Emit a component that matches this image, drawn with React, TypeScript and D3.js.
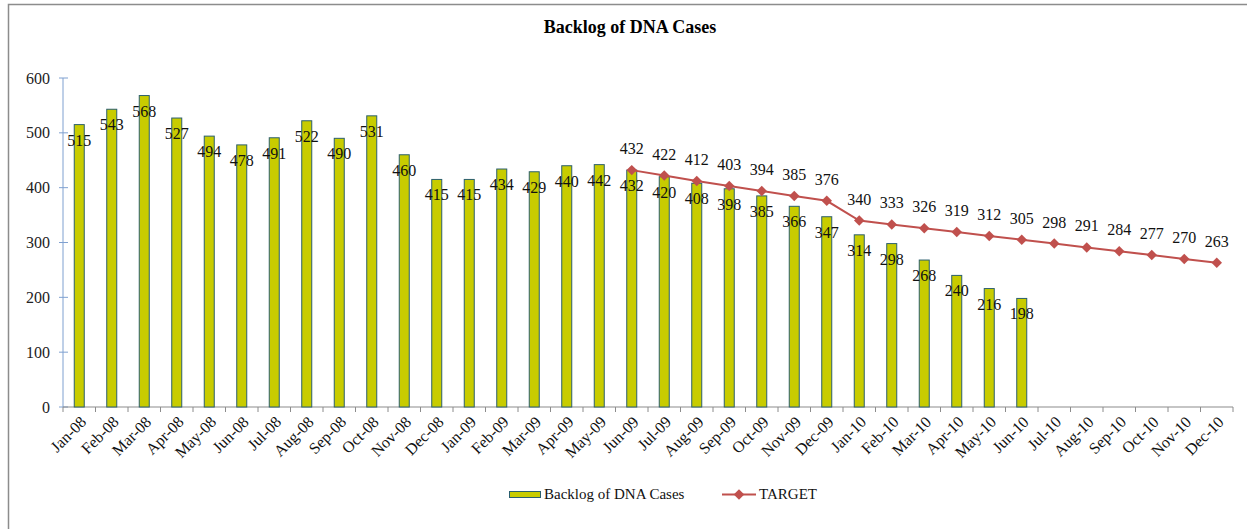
import { useEffect } from 'react';
import * as d3 from 'd3';

// Months Jan-08 .. Dec-10
const months = [
  'Jan-08', 'Feb-08', 'Mar-08', 'Apr-08', 'May-08', 'Jun-08', 'Jul-08', 'Aug-08', 'Sep-08', 'Oct-08', 'Nov-08', 'Dec-08',
  'Jan-09', 'Feb-09', 'Mar-09', 'Apr-09', 'May-09', 'Jun-09', 'Jul-09', 'Aug-09', 'Sep-09', 'Oct-09', 'Nov-09', 'Dec-09',
  'Jan-10', 'Feb-10', 'Mar-10', 'Apr-10', 'May-10', 'Jun-10', 'Jul-10', 'Aug-10', 'Sep-10', 'Oct-10', 'Nov-10', 'Dec-10',
];

const backlog = [
  515, 543, 568, 527, 494, 478, 491, 522, 490, 531, 460, 415,
  415, 434, 429, 440, 442, 432, 420, 408, 398, 385, 366, 347,
  314, 298, 268, 240, 216, 198,
];

// TARGET starts at Jun-09
const targetStart = 'Jun-09';
const target = [432, 422, 412, 403, 394, 385, 376, 340, 333, 326, 319, 312, 305, 298, 291, 284, 277, 270, 263];

const yTicks = [0, 100, 200, 300, 400, 500, 600];

const W = 1247;
const H = 529;
const FONT = 'Liberation Serif, Times New Roman, Times, serif';

export default function App() {
  useEffect(() => {
    document.body.style.margin = '0';
  }, []);

  const left = 63;
  const right = 1233;
  const top = 78;
  const bottom = 407;

  const x = d3.scaleBand<string>().domain(months).range([left, right]);
  const y = d3.scaleLinear().domain([0, 600]).range([bottom, top]);
  const bw = x.bandwidth();
  const barW = 10;

  const startIdx = months.indexOf(targetStart);
  const targetPts = target.map((v, i) => ({ m: months[startIdx + i], v }));
  const line = d3
    .line<{ m: string; v: number }>()
    .x((d) => x(d.m)! + bw / 2)
    .y((d) => y(d.v));

  const diamond = d3.symbol().type(d3.symbolDiamond2).size(70)();

  return (
    <svg width={W} height={H} fontFamily={FONT} style={{ display: 'block' }}>
      <rect x={0} y={0} width={W} height={H} fill="#fff" />
      <rect x={8.5} y={4.5} width={W + 10} height={H + 10} fill="none" stroke="#8c8c8c" strokeWidth={1.5} />

      <text x={630} y={33} textAnchor="middle" fontSize={18} fontWeight="bold" fill="#000">
        Backlog of DNA Cases
      </text>

      {/* y axis */}
      <line x1={left} x2={left} y1={top} y2={bottom} stroke="#7fa0d0" strokeWidth={1} />
      {yTicks.map((t) => (
        <g key={t}>
          <line x1={left - 4} x2={left + 5} y1={y(t)} y2={y(t)} stroke="#7fa0d0" strokeWidth={1} />
          <text x={50} y={y(t)} dy="0.35em" textAnchor="end" fontSize={16} fill="#222">
            {t}
          </text>
        </g>
      ))}

      {/* x axis */}
      <line x1={left} x2={right} y1={bottom} y2={bottom} stroke="#8c8c8c" strokeWidth={1.2} />
      {months.map((m) => (
        <line key={m} x1={x(m)!} x2={x(m)!} y1={bottom} y2={bottom + 5} stroke="#8c8c8c" />
      ))}
      <line x1={right} x2={right} y1={bottom} y2={bottom + 5} stroke="#8c8c8c" />
      {months.map((m) => (
        <text
          key={m}
          transform={`translate(${x(m)! + bw / 2 + 4},${bottom + 12}) rotate(-45)`}
          textAnchor="end"
          dy="0.35em"
          fontSize={16}
          fill="#111"
        >
          {m}
        </text>
      ))}

      {/* bars */}
      {backlog.map((v, i) => (
        <rect
          key={months[i]}
          x={x(months[i])! + bw / 2 - barW / 2}
          y={y(v)}
          width={barW}
          height={bottom - y(v)}
          fill="#c8cc00"
          stroke="#2b5f6e"
          strokeWidth={1}
        />
      ))}
      {backlog.map((v, i) => (
        <text
          key={months[i]}
          x={x(months[i])! + bw / 2}
          y={y(v) + 21}
          textAnchor="middle"
          fontSize={16}
          fill="#111"
        >
          {v}
        </text>
      ))}

      {/* target line */}
      <path d={line(targetPts)!} fill="none" stroke="#c0504d" strokeWidth={2} />
      {targetPts.map((d) => (
        <path key={d.m} d={diamond} transform={`translate(${x(d.m)! + bw / 2},${y(d.v)})`} fill="#c0504d" />
      ))}
      {targetPts.map((d) => (
        <text key={d.m} x={x(d.m)! + bw / 2} y={y(d.v) - 16} textAnchor="middle" fontSize={16} fill="#111">
          {d.v}
        </text>
      ))}

      {/* legend */}
      <rect x={509.5} y={491.5} width={31} height={6} fill="#c8cc00" stroke="#2b5f6e" />
      <text x={544} y={499} fontSize={15} fill="#111">
        Backlog of DNA Cases
      </text>
      <line x1={722} x2={756} y1={494.5} y2={494.5} stroke="#c0504d" strokeWidth={2} />
      <path d={diamond} transform="translate(739,494.5)" fill="#c0504d" />
      <text x={759} y={499} fontSize={15} fill="#111">
        TARGET
      </text>
    </svg>
  );
}
